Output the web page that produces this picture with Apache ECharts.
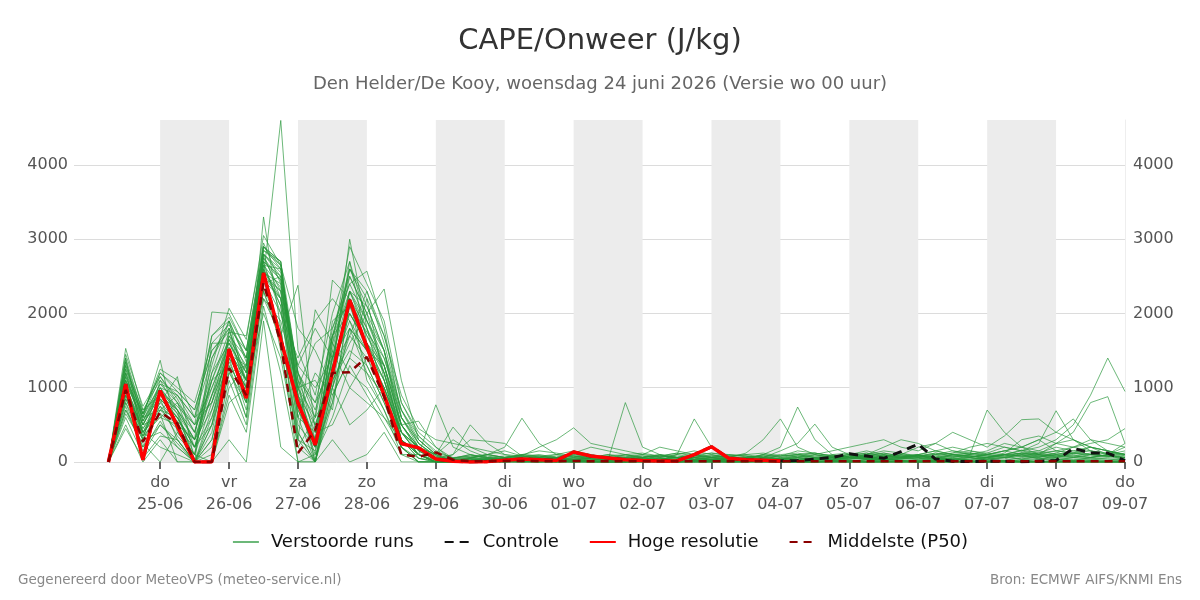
<!DOCTYPE html>
<html>
<head>
<meta charset="utf-8">
<script src="https://cdn.jsdelivr.net/npm/echarts@6/dist/echarts.min.js"></script>
<style>
html,body{margin:0;padding:0;background:#fff;}
#chart{width:1200px;height:600px;}
</style>
</head>
<body>
<div id="chart"></div>
<script>
// Time axis: hours since 24-06 00:00; first value at +6h, 6-hourly steps
const startHour = 6;
const stepHours = 6;
const tickHours = [24,48,72,96,120,144,168,192,216,240,264,288,312,336,360];
const tickLabels = ['do\n25-06','vr\n26-06','za\n27-06','zo\n28-06','ma\n29-06','di\n30-06','wo\n01-07','do\n02-07','vr\n03-07','za\n04-07','zo\n05-07','ma\n06-07','di\n07-07','wo\n08-07','do\n09-07'];
const shadedDayStarts = [24,72,120,168,216,264,312];

const hres = [0,1050,30,960,480,0,0,1520,860,2545, 1650,795,230,1200,2180,1550,900,250,190,40, 10,0,5,25,40,30,20,135,80,55, 30,20,15,15,100,205,50,30,25,15];
const control = [0,1050,30,960,480,0,0,1520,860,2545, 1650,795,230,1200,2180,1550,900,250,190,40, 10,0,5,25,40,30,20,135,80,55, 30,20,15,15,100,205,50,30,25,15, 20,40,60,110,80,50,140,240,40,10, 5,10,10,5,10,20,185,120,120,20];
const p50 = [0,970,270,670,520,0,0,1265,900,2410, 1600,120,430,1200,1210,1415,880,100,70,130, 30,10,10,15,15,10,10,15,10,10, 10,10,10,10,10,10,10,10,10,10, 10,10,10,10,10,10,10,10,10,10, 10,10,10,10,10,10,10,10,10,10];

const m01 = [0,1530,700,900,600,200,900,1700,1200,2650, 2600,1200,300,1400,2600,2100,1500,400,100,30, 10,0,0,20,50,30,20,10,40,20, 10,20,10,30,20,40,30,20,10,10, 0,10,20,10,30,40,20,10,20,30, 20,10,20,10,30,40,30,20,10,0];
const m02 = [0,1300,600,1370,400,100,1200,1900,1400,2900, 2700,800,100,1700,2400,2570,1800,600,200,50, 100,300,280,250,80,50,40,120,60,40, 30,60,40,20,60,30,40,20,30,50, 80,40,60,100,50,80,120,60,40,100, 120,80,100,160,120,200,150,100,80,60];
const m03 = [0,1000,400,800,1150,0,400,1500,800,3300, 1800,200,0,1200,3000,1800,900,200,0,0, 0,0,0,30,10,0,20,0,0,0, 0,0,20,0,0,0,0,0,20,0, 0,0,0,0,0,0,20,0,0,10, 0,0,0,0,0,0,0,20,0,0];
const m04 = [0,900,500,600,800,400,1100,1300,600,2500, 4600,1500,900,2000,2700,1600,1300,300,50,0, 0,0,30,10,0,0,10,0,50,20, 0,20,10,0,30,10,0,20,40,30, 60,20,40,80,50,30,70,90,40,60, 100,700,400,200,300,150,120,80,60,40];
const m05 = [0,1400,300,1100,700,0,0,1800,1100,2800, 2200,600,1200,900,1400,2200,1100,500,550,200, 50,100,40,30,60,20,40,80,40,30, 800,200,100,50,60,30,80,40,60,30, 20,40,30,60,40,80,50,30,40,60, 80,40,60,100,40,80,60,50,40,30];
const m06 = [0,600,100,500,300,0,0,1000,1300,2200, 1700,2380,400,500,1000,1400,900,200,0,0, 0,0,0,0,0,0,0,0,0,0, 0,0,0,10,0,0,0,0,0,0, 0,0,0,0,0,0,0,0,0,0, 0,0,10,0,0,0,0,0,0,0];
const m07 = [0,800,200,700,500,300,2020,2000,1500,2700, 2000,1000,200,800,1800,1200,700,100,0,0, 20,50,100,60,30,10,0,20,60,100, 40,20,10,30,20,10,40,80,30,20, 10,30,20,50,80,40,20,10,30,20, 40,60,100,80,50,30,60,40,20,10];
const m08 = [0,1100,500,1000,900,600,1700,1900,1000,2600, 1500,300,2050,1600,1200,1000,600,300,100,0, 0,20,40,60,100,150,120,80,40,20, 60,100,200,150,100,60,40,20,10,30, 50,30,20,40,60,30,50,100,60,40, 20,40,60,40,80,120,200,300,250,200];
const m09 = [0,700,300,400,200,0,300,1400,700,2400, 2500,1200,600,2450,2200,1700,1200,400,150,50, 30,10,0,20,40,60,30,20,10,0, 0,10,20,0,10,20,0,10,30,20, 10,0,10,20,0,10,20,0,10,0, 10,20,0,10,0,20,10,0,10,0];
const m10 = [0,1200,650,1200,1000,800,1600,1600,1200,2750, 2300,400,0,1100,1600,2000,2330,1100,300,100, 300,150,60,40,100,80,60,120,200,150, 100,50,40,80,60,40,30,60,100,80, 150,120,80,60,100,200,300,250,150,100, 80,60,120,300,350,250,200,150,100,60];
const m11 = [0,500,0,300,0,0,0,900,400,2100, 1200,0,100,600,1300,900,500,100,100,770, 200,100,50,20,10,0,0,0,10,0, 0,0,0,0,0,0,0,0,0,0, 0,0,0,0,0,0,0,0,0,0, 0,0,0,0,0,0,0,0,0,0];
const m12 = [0,1000,350,850,600,200,500,1700,1400,2850, 2650,900,300,1900,2100,1500,1000,400,200,100, 470,200,100,60,40,30,20,10,0,0, 20,40,20,0,10,30,0,0,20,0, 0,0,10,0,30,0,0,20,0,0, 10,0,0,30,0,0,20,0,0,10];
const m13 = [0,1250,550,950,750,500,1000,1550,900,2550, 2400,1100,800,1300,2700,1900,1400,600,250,80, 0,50,100,200,590,250,100,80,60,50, 40,30,80,60,100,120,80,60,40,30, 20,50,80,100,120,80,60,100,150,200, 150,100,80,120,150,100,80,60,100,150];
const m14 = [0,850,400,200,100,0,200,1200,1300,2300, 1600,0,0,1500,1000,800,600,200,50,20, 100,500,250,100,50,20,0,10,0,0, 0,0,10,0,0,0,20,0,0,0, 0,10,0,0,0,0,10,0,0,0, 0,0,10,0,0,0,0,10,0,0];
const m15 = [0,1450,750,1150,850,400,1300,2070,1650,3050, 2650,1800,1500,1000,1700,2300,1600,700,350,150, 50,80,60,40,80,200,300,460,250,200, 150,100,80,60,40,30,20,60,80,40, 30,20,60,80,40,20,40,60,80,40, 60,120,200,150,100,250,300,150,100,200];
const m16 = [0,650,250,0,400,100,0,300,0,1900, 200,0,0,300,0,100,400,0,0,0, 0,0,0,0,0,0,0,0,0,0, 0,0,20,100,580,200,60,20,0,0, 0,0,0,10,0,0,0,0,0,0, 0,0,0,0,0,0,0,0,0,20];
const m17 = [0,950,450,750,550,300,700,1350,800,2450, 2000,1400,1900,2200,1900,1300,800,300,100,0, 0,20,40,60,30,20,50,100,60,40, 30,20,40,60,100,80,60,120,300,580, 200,100,60,40,80,100,60,40,60,80, 100,80,60,100,120,80,60,100,80,60];
const m18 = [0,1150,600,1050,950,700,1500,1750,1700,2950, 2400,600,400,1800,2500,2000,1200,500,150,30, 50,100,60,40,30,60,40,30,20,40, 60,80,40,20,60,100,50,40,100,200, 740,300,100,60,40,80,100,60,40,20, 40,60,80,40,60,100,80,60,100,250];
const m19 = [0,750,150,550,200,0,100,1100,500,2200, 1900,1000,1100,700,2200,1100,700,200,0,0, 0,0,10,0,20,40,60,40,20,10, 0,20,40,60,30,20,10,40,60,150, 250,510,200,100,60,40,60,80,40,20, 60,100,150,200,100,80,120,100,80,60];
const m20 = [0,1350,650,1250,1100,600,800,1650,1100,2700, 2500,700,200,1600,2900,2400,1900,800,400,200, 20,40,30,20,60,80,40,20,60,100, 80,40,60,100,60,40,20,60,80,40, 60,100,150,200,250,300,200,150,250,400, 300,200,350,570,580,400,300,200,150,80];
const m21 = [0,450,50,350,300,0,0,800,1000,2000, 1400,200,600,1000,500,700,1000,400,200,100, 0,30,60,80,50,40,60,100,80,40, 60,40,20,40,80,60,40,20,40,60, 100,60,40,80,120,80,60,40,80,120, 200,250,200,150,250,690,300,200,100,80];
const m22 = [0,1050,400,650,450,200,600,1450,1300,2600, 2200,1300,1000,1400,1800,1500,1300,600,300,100, 0,0,20,40,20,0,20,40,20,0, 20,40,20,0,20,40,60,40,20,40, 60,40,80,100,60,40,100,200,250,150, 100,150,250,200,300,400,580,300,150,100];
const m23 = [0,1200,500,900,700,300,1000,1600,1200,2800, 2550,1100,500,1200,2300,1900,1500,500,200,50, 10,40,20,60,100,80,60,40,60,80, 40,60,100,60,40,60,80,100,60,40, 80,100,60,40,80,120,80,60,100,150, 120,100,150,200,150,250,400,800,880,250];
const m24 = [0,900,300,750,350,100,1400,1800,900,2650, 2100,500,200,1700,2000,1600,1100,300,100,0, 0,10,20,0,30,60,40,20,0,20, 30,10,40,60,30,20,40,60,40,20, 40,60,80,60,40,60,100,80,60,100, 80,60,100,150,200,300,500,900,1400,950];
const m25 = [0,1100,550,1000,650,0,700,1500,1100,2750, 2450,900,0,800,2100,1750,1400,700,250,60, 20,60,100,150,80,40,60,80,60,40, 100,120,80,60,80,120,100,80,60,80, 100,120,80,60,100,150,120,80,100,120, 150,120,100,80,120,150,200,250,300,450];
const m26 = [0,800,350,600,500,0,500,1250,600,2350, 1800,300,150,1100,1500,1300,800,200,0,0, 0,0,0,0,0,0,0,0,0,0, 0,0,0,0,0,10,0,0,0,0, 0,0,10,0,0,0,0,0,0,0, 0,0,0,0,0,0,0,0,0,0];
const m27 = [0,1300,600,1150,800,500,1700,1950,1500,2900, 2600,1200,700,1500,2600,2200,1700,900,450,300, 250,200,150,100,80,60,100,150,100,60, 40,60,80,120,80,60,40,60,80,100, 120,80,60,100,150,100,60,80,120,100, 80,60,100,120,80,100,150,200,150,100];
const m28 = [0,1000,450,850,600,200,900,1400,1000,2500, 2300,800,300,1300,1900,1500,1000,400,100,0, 0,10,0,0,0,0,10,0,0,0, 0,0,10,0,0,0,0,0,0,0, 0,0,0,0,0,0,0,0,10,0, 0,0,0,0,0,0,0,0,0,0];
const m29 = [0,700,200,500,250,0,300,1200,800,2300, 1700,400,0,900,1400,1200,900,300,100,0, 0,0,0,10,0,0,0,20,0,0, 0,10,0,0,0,0,0,0,10,0, 0,0,0,0,0,10,0,0,0,0, 0,0,0,0,10,0,0,0,0,0];
const m30 = [0,1150,500,950,700,300,1100,1650,1300,2800, 2500,1000,400,1400,2300,1800,1300,500,200,50, 50,60,40,30,50,80,100,60,40,30, 50,80,60,100,150,100,60,40,60,80, 100,60,40,80,100,60,40,80,100,80, 60,100,150,100,80,60,120,200,150,100];
const m31 = [0,1200,400,850,300,0,1600,1850,1400,2700, 2450,1000,600,1700,2200,1800,1200,300,100,0, 0,20,40,20,0,30,60,20,0,10, 20,40,20,0,30,60,40,20,10,0, 20,40,60,30,10,40,80,50,20,40, 60,30,20,60,80,40,20,60,40,20];
const m32 = [0,1050,600,700,900,500,800,1450,1000,2550, 2300,1300,1800,1400,2000,1600,1100,400,200,60, 20,40,20,10,30,50,30,10,20,40, 60,30,20,40,20,10,30,50,20,10, 30,50,30,60,40,20,50,80,60,40, 80,60,40,120,100,60,80,120,80,40];
const m33 = [0,1350,550,1050,800,200,1100,1750,1250,2850, 2700,700,300,1600,2300,2100,1500,700,300,100, 40,60,80,40,20,40,80,60,40,20, 40,60,100,60,40,80,60,40,100,60, 80,60,40,80,60,100,60,80,120,80, 60,40,100,80,60,120,100,60,80,120];
const m34 = [0,900,300,650,0,0,500,1400,1100,2600, 2100,300,0,1300,1700,1400,1000,300,50,0, 0,0,0,0,10,0,0,0,0,0, 0,0,0,0,0,0,0,0,0,0, 0,0,0,10,0,0,0,0,0,0, 0,0,0,0,0,0,0,0,0,0];
const m35 = [0,1100,650,1000,700,400,1200,1600,1100,2800, 2600,1100,0,1000,2300,1700,1300,500,200,40, 0,10,0,20,30,10,0,20,10,0, 0,20,10,0,20,10,0,10,20,0, 10,0,20,10,0,20,10,0,20,10, 0,10,20,0,10,20,0,10,0,0];
const m36 = [0,1250,700,1100,900,600,1400,1900,1350,2900, 2650,900,200,1400,2500,2000,1500,600,250,80, 30,50,40,60,80,60,40,60,80,60, 80,100,60,40,60,80,100,80,60,40, 60,80,100,120,80,60,80,100,60,80, 100,80,60,80,100,150,120,100,80,60];
const m37 = [0,1000,500,900,650,300,900,1500,1100,2650, 2350,1000,1600,1800,2400,1900,1300,500,150,30, 10,20,30,10,20,30,40,20,10,20, 30,20,40,30,20,10,20,30,20,10, 20,30,40,20,30,40,30,20,30,40, 30,40,20,30,40,60,40,30,20,10];
const m38 = [0,850,350,800,550,0,600,1300,900,2450, 2200,600,0,1000,1800,1500,1100,300,100,0, 0,0,10,0,0,20,0,0,10,0, 0,10,0,0,10,0,0,20,0,0, 0,0,10,0,0,0,10,0,0,0, 10,0,0,0,0,10,0,0,0,0];
const m39 = [0,1400,650,1200,950,700,1500,1800,1500,2900, 2700,1200,800,1700,2600,2300,1700,800,350,120, 60,80,100,60,80,100,60,40,60,80, 100,60,80,120,100,60,80,100,120,80, 100,120,80,60,100,120,80,100,150,100, 120,100,80,120,100,80,120,150,120,100];
const m40 = [0,950,400,700,600,100,800,1450,1000,2500, 2200,900,500,1200,2000,1600,1200,400,100,20, 0,10,20,10,0,10,20,30,10,0, 10,20,10,0,10,20,10,0,10,20, 10,0,10,20,30,10,0,10,20,10, 0,10,20,10,0,10,20,10,0,10];
const members = [m01,m02,m03,m04,m05,m06,m07,m08,m09,m10,m11,m12,m13,m14,m15,m16,m17,m18,m19,m20,
                 m21,m22,m23,m24,m25,m26,m27,m28,m29,m30,m31,m32,m33,m34,m35,m36,m37,m38,m39,m40];

const FONT = 'DejaVu Sans';
function pairs(arr){ return arr.map((v,i)=>[startHour + stepHours*i, v]); }

const series = [];
series.push({
  type:'line', name:'_bands', data:[], silent:true, z:0,
  markArea:{ silent:true, itemStyle:{color:'#ececec'},
    data: shadedDayStarts.map(h=>[{xAxis:h},{xAxis:h+24}]) }
});
members.forEach(m=>{
  series.push({ type:'line', name:'Verstoorde runs', data:pairs(m), symbol:'none', silent:true, z:2,
    lineStyle:{color:'rgba(38,150,58,0.68)', width:1}, itemStyle:{color:'rgba(38,150,58,0.68)'} });
});
series.push({ type:'line', name:'Controle', data:pairs(control), symbol:'none', z:3,
  lineStyle:{color:'#111', width:3, type:[9,6]}, itemStyle:{color:'#111'} });
series.push({ type:'line', name:'Hoge resolutie', data:pairs(hres), symbol:'none', z:4,
  lineStyle:{color:'#ff0000', width:3.5}, itemStyle:{color:'#ff0000'} });
series.push({ type:'line', name:'Middelste (P50)', data:pairs(p50), symbol:'none', z:5,
  lineStyle:{color:'#8b0000', width:2.5, type:[8,6]}, itemStyle:{color:'#8b0000'} });

const yAxisBase = {
  type:'value', min:0, max:4606, interval:1000,
  axisLine:{show:false}, axisTick:{show:false},
  axisLabel:{fontFamily:FONT, fontSize:16, color:'#555', showMaxLabel:false, formatter:(v)=>String(v)}
};

const chart = echarts.init(document.getElementById('chart'), null, {renderer:'canvas'});
chart.setOption({
  animation:false,
  backgroundColor:'#fff',
  title:[
    {text:'CAPE/Onweer (J/kg)', left:'center', top:27, padding:0, textStyle:{fontFamily:FONT, fontSize:29, fontWeight:'normal', color:'#333'}},
    {text:'Den Helder/De Kooy, woensdag 24 juni 2026 (Versie wo 00 uur)', left:'center', top:75, padding:0, textStyle:{fontFamily:FONT, fontSize:18, fontWeight:'normal', color:'#666'}},
    {text:'Gegenereerd door MeteoVPS (meteo-service.nl)', left:18, top:573, padding:0, textStyle:{fontFamily:FONT, fontSize:13.5, fontWeight:'normal', color:'#888'}},
    {text:'Bron: ECMWF AIFS/KNMI Ens', right:18, top:573, padding:0, textStyle:{fontFamily:FONT, fontSize:13.5, fontWeight:'normal', color:'#888'}}
  ],
  legend:{
    data:['Verstoorde runs','Controle','Hoge resolutie','Middelste (P50)'],
    top:528, left:'center', itemWidth:26, itemHeight:14, itemGap:30,
    itemStyle:{opacity:0},
    textStyle:{fontFamily:FONT, fontSize:18, color:'#111', padding:[0,0,0,7]}
  },
  grid:{left:74, right:75, top:120, bottom:138, containLabel:false},
  xAxis:{
    type:'value', min:-6, max:360,
    axisLine:{show:false},
    axisTick:{show:true, customValues:tickHours, length:7, lineStyle:{color:'#666', width:2}},
    axisLabel:{customValues:tickHours, fontFamily:FONT, fontSize:16, color:'#555', lineHeight:22, margin:10,
      formatter:(v)=>{ const i = tickHours.indexOf(v); return i>=0 ? tickLabels[i] : ''; }},
    splitLine:{show:false}
  },
  yAxis:[
    Object.assign({}, yAxisBase, {position:'left', axisLabel:Object.assign({}, yAxisBase.axisLabel, {margin:6}),
      splitLine:{show:true, showMaxLine:false, lineStyle:{color:'#dcdcdc', width:1}}}),
    Object.assign({}, yAxisBase, {position:'right', axisLabel:Object.assign({}, yAxisBase.axisLabel, {margin:8}),
      splitLine:{show:false}, axisLine:{show:true, lineStyle:{color:'#eeeeee'}}})
  ],
  series: series
});
</script>
</body>
</html>
